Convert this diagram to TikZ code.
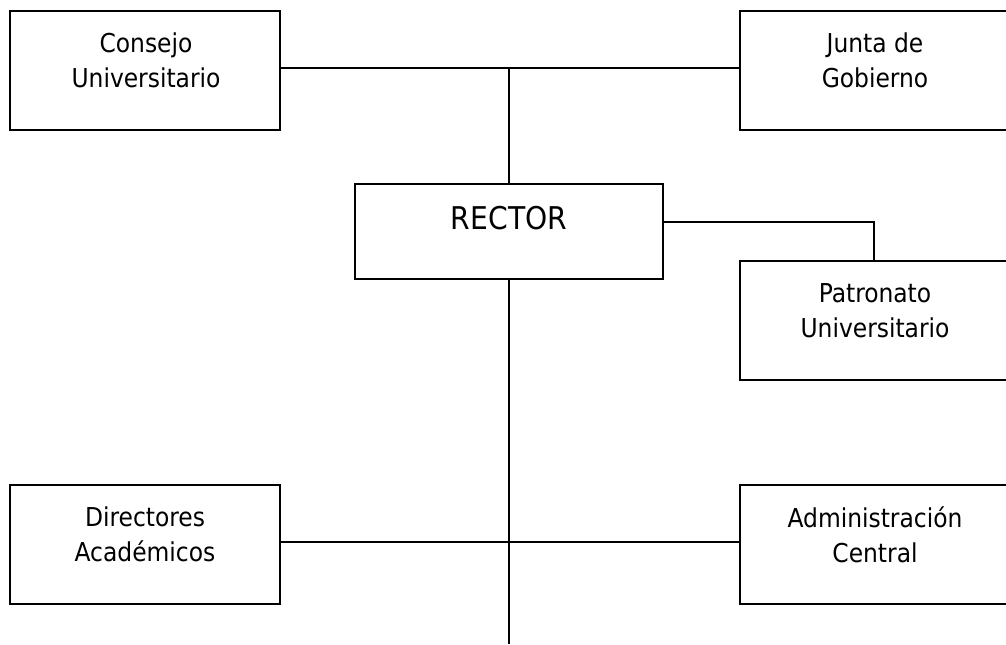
\documentclass[tikz,border=0pt]{standalone}
\usepackage{fontspec}
\setmainfont{DejaVu Sans Condensed}
\begin{document}
\begin{tikzpicture}[x=0.75pt,y=-0.75pt,
  box/.style={draw, line width=1.5pt, rectangle, inner sep=0pt, outer sep=0pt},
  side/.style={box, minimum width=202.5pt, minimum height=89.25pt},
  lbl/.style={align=center, font=\fontsize{19.5}{26.25}\selectfont, inner sep=0pt},
  big/.style={font=\fontsize{23.5}{28}\selectfont, inner sep=0pt},
  conn/.style={line width=1.5pt}]
\useasboundingbox (0,0) rectangle (1006,644);
\clip (0,0) rectangle (1006,644);
% boxes
\node[side] (cu) at (145,70.5) {};
\node[side] (jg) at (875,70.5) {};
\node[box, minimum width=231pt, minimum height=71.25pt] (rc) at (509,231.5) {};
\node[side] (pu) at (875,320.5) {};
\node[side] (da) at (145,544.5) {};
\node[side] (ac) at (875,544.5) {};
% labels
\node[lbl] (cut) at (146,60.5) {Consejo\\Universitario};
\node[lbl] (jgt) at (875,60.5) {Junta de\\Gobierno};
\node[big] (rct) at (509,218.5) {RECTOR};
\node[lbl] (put) at (875,310.5) {Patronato\\Universitario};
\node[lbl] (dat) at (145,534.5) {Directores\\Académicos};
\node[lbl] (act) at (875,534.5) {Administración\\Central};
% junction coordinates
\coordinate (top) at (509,68);
\coordinate (pk) at (874,222);
\coordinate (bot) at (509,644);
\coordinate (mid) at (509,542);
% connectors
\draw[conn] (cu.east |- top) -- (jg.west |- top);
\draw[conn] (top) -- (rc.north);
\draw[conn] (rc.east |- pk) -- (pk) -- (pu.north -| pk);
\draw[conn] (rc.south) -- (bot);
\draw[conn] (da.east |- mid) -- (ac.west |- mid);
\end{tikzpicture}
\end{document}
